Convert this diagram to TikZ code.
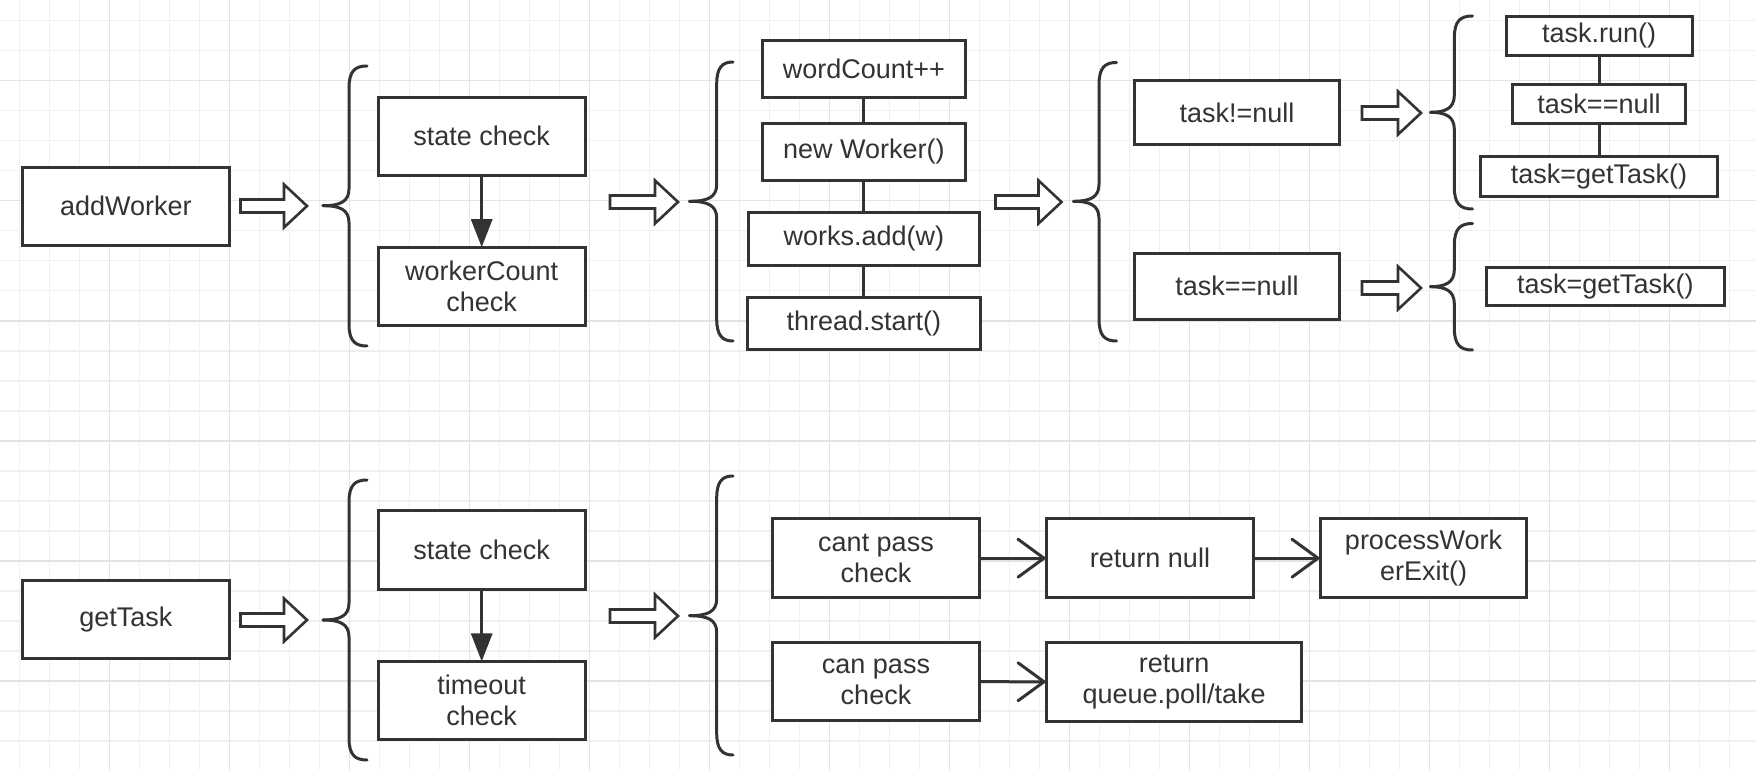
\documentclass[tikz,border=0pt]{standalone}
\usepackage{fontspec}
\setmainfont{Liberation Sans}
\usetikzlibrary{arrows.meta}
\definecolor{ink}{HTML}{333333}
\definecolor{gridminor}{HTML}{F0F0F0}
\definecolor{gridmajor}{HTML}{E3E3E3}
% brace: tip x, vertical x, end x, top y, tip y, bottom y
\newcommand\DrawBrace[6]{%
  \draw[bracestyle] (#3,#4) .. controls ({#2+6},#4) and (#2,{#4+5}) .. (#2,{#4+22})
     -- (#2,{#5-17}) .. controls (#2,{#5-4}) and ({#2-9},#5) .. (#1,#5);
  \draw[bracestyle] (#3,#6) .. controls ({#2+6},#6) and (#2,{#6-5}) .. (#2,{#6-22})
     -- (#2,{#5+17}) .. controls (#2,{#5+4}) and ({#2-9},#5) .. (#1,#5);
}
% hollow block arrow: start x, centre y, tip x
\newcommand\HollowArrow[3]{%
  \draw[hollow] (#1,{#2-6.5}) -- ({#3-23},{#2-6.5}) -- ({#3-23},{#2-21.5}) -- (#3,#2)
     -- ({#3-23},{#2+21.5}) -- ({#3-23},{#2+6.5}) -- (#1,{#2+6.5}) -- cycle;
}
\begin{document}
\begin{tikzpicture}[x=0.5pt,y=-0.5pt,
  box/.style={draw=ink, line width=1.5pt, text=ink, fill=white, inner sep=0pt, outer sep=0pt,
    align=center, font=\fontsize{13.5pt}{15.5pt}\selectfont},
  sz/.style 2 args={minimum width={#1*0.5pt}, minimum height={#2*0.5pt}},
  link/.style={draw=ink, line width=1.5pt},
  flow/.style={link, -{Triangle[length=14pt,width=10.5pt]}},
  openflow/.style={link, -{Straight Barb[length=13pt,width=19pt,line cap=round]}},
  hollow/.style={draw=ink, line width=1.3pt, fill=white, line join=miter},
  bracestyle/.style={draw=ink, line width=1.5pt, line cap=round},
  gminor/.style={draw=gridminor, line width=0.8pt},
  gmajor/.style={draw=gridmajor, line width=0.8pt},
]
\useasboundingbox (0,0) rectangle (1756,770);
\fill[white] (0,0) rectangle (1756,770);
% grid
\begin{scope}
\clip (0,0) rectangle (1756,770);
\foreach \i in {0,...,58} \draw[gminor] ({19.3+30*\i},0) -- ({19.3+30*\i},770);
\foreach \i in {0,...,24} \draw[gminor] (0,{20.7+30*\i}) -- (1756,{20.7+30*\i});
\foreach \i in {0,...,13} \draw[gmajor] ({109.3+120*\i},0) -- ({109.3+120*\i},770);
\foreach \i in {0,...,5} \draw[gmajor] (0,{80.7+120*\i}) -- (1756,{80.7+120*\i});
\end{scope}

% ---------- addWorker row ----------
\node[box, sz={206.7}{78}] (aw) at (125.9,206.2) {addWorker};
\node[box, sz={207}{78}] (sc1) at (481.7,136.2) {state check};
\node[box, sz={207}{78}] (wc) at (481.7,286.2) {workerCount\\check};
\node[box, sz={202.7}{56.7}] (wcount) at (863.8,69.2) {wordCount++};
\node[box, sz={202.7}{57}] (nw) at (863.8,151.7) {new Worker()};
\node[box, sz={231.3}{52.7}] (wadd) at (863.8,238.8) {works.add(w)};
\node[box, sz={233}{52}] (tstart) at (863.8,323.2) {thread.start()};
\node[box, sz={204.4}{63.4}] (tnn) at (1237,112.5) {task!=null};
\node[box, sz={204.4}{66}] (tn) at (1237,286.2) {task==null};
\node[box, sz={186}{38.7}] (trun) at (1599,35.8) {task.run()};
\node[box, sz={173.3}{38.7}] (tnull) at (1599,104.2) {task==null};
\node[box, sz={237}{40.3}] (tget1) at (1599,176.7) {task=getTask()};
\node[box, sz={237.7}{38.6}] (tget2) at (1605.3,286.5) {task=getTask()};

\draw[flow] (sc1) -- (wc);
\draw[link] (wcount) -- (nw);
\draw[link] (nw) -- (wadd);
\draw[link] (wadd) -- (tstart);
\draw[link] (trun) -- (tnull);
\draw[link] (tnull) -- (tget1);

\HollowArrow{240.5}{206}{307}
\HollowArrow{610}{202}{678}
\HollowArrow{995.5}{202}{1061.5}
\HollowArrow{1362}{113}{1421}
\HollowArrow{1362}{288}{1421}

\DrawBrace{323}{349}{367}{66}{205.7}{346}
\DrawBrace{689.5}{716.7}{733}{62}{201.3}{341}
\DrawBrace{1073.5}{1099}{1116.5}{62.5}{201.3}{341}
\DrawBrace{1430.5}{1454.3}{1472.5}{16}{112.3}{209}
\DrawBrace{1430.5}{1454.3}{1472.5}{223.5}{286.7}{350}

% ---------- getTask row ----------
\node[box, sz={206.7}{78}] (gt) at (125.9,619.5) {getTask};
\node[box, sz={207}{78.4}] (sc2) at (481.7,550) {state check};
\node[box, sz={207}{77.7}] (tc) at (481.7,700.3) {timeout\\check};
\node[box, sz={207}{78.7}] (cant) at (876,558.2) {cant pass\\check};
\node[box, sz={207}{78.3}] (can) at (876,681.7) {can pass\\check};
\node[box, sz={207}{78.7}] (rnull) at (1150,558.2) {return null};
\node[box, sz={206}{78.7}] (pwe) at (1423.5,558.2) {processWork\\erExit()};
\node[box, sz={255.3}{78.7}] (rq) at (1174.2,681.8) {return\\queue.poll/take};

\draw[flow] (sc2) -- (tc);
\draw[openflow] (cant) -- (rnull);
\draw[openflow] (rnull) -- (pwe);
\draw[openflow] (can) -- (rq);

\HollowArrow{240.5}{620}{307}
\HollowArrow{610}{616}{678}

\DrawBrace{323}{349}{367}{480}{620}{760}
\DrawBrace{689.5}{716.7}{733}{476}{615.7}{755}
\end{tikzpicture}
\end{document}
